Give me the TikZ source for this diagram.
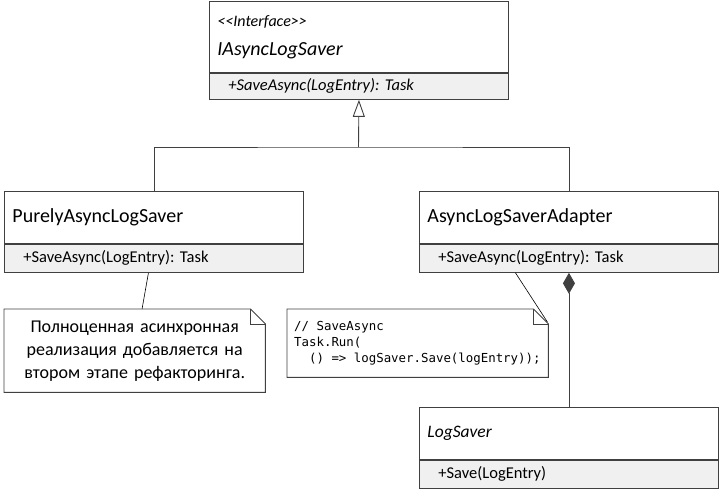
\documentclass[tikz,border=0pt]{standalone}
\usepackage{fontspec}
\setmainfont{Carlito}
\setmonofont{DejaVu Sans Mono}
\usetikzlibrary{arrows.meta,positioning}
\frenchspacing
\definecolor{umlline}{RGB}{64,64,64}
\definecolor{umlfill}{RGB}{240,240,240}
\tikzset{
    %Define style for class name compartments
    klasse/.style={
           rectangle,
           draw=umlline,
           line width=0.9pt,
           inner xsep=8pt,
           inner ysep=0pt,
           text width=283pt,
           minimum height=52pt,
           align=left,
           font=\fontsize{20}{24}\selectfont},
    %Define style for operation compartments
    methode/.style={
           rectangle,
           draw=umlline,
           fill=umlfill,
           line width=0.9pt,
           inner xsep=19pt,
           inner ysep=0pt,
           text width=261pt,
           minimum height=28pt,
           align=left,
           font=\fontsize{16.5}{19}\selectfont},
    %Define style for notes (outline drawn by \notizrand)
    notiz/.style={
           rectangle,
           inner xsep=7pt,
           inner ysep=0pt,
           text width=247pt},
    % Define line styles
    linie/.style={
           draw=umlline,
           line width=0.9pt},
    notizlinie/.style={
           draw=black,
           line width=0.6pt}
}
% folded-corner outline of a note
\newcommand\notizrand[1]{%
  \draw[linie] (#1.north west) -- ([xshift=-15pt]#1.north east)
    -- ([yshift=-15pt]#1.north east) -- (#1.south east)
    -- (#1.south west) -- cycle;
  \draw[linie] ([xshift=-15pt]#1.north east) |- ([yshift=-15pt]#1.north east);}

\begin{document}
\begin{tikzpicture}[x=1pt,y=-1pt]
  \useasboundingbox (0,0) rectangle (720,491);
  % interface
  \node[klasse,minimum height=71pt,anchor=north west] (ilogsaver) at (209,1)
    {{\fontsize{16}{19}\selectfont\itshape <\kern0pt<Interface>\kern0pt>}\\[5pt]\itshape IAsyncLogSaver};
  \node[methode,minimum height=26pt,below=0pt of ilogsaver,
    font={\fontsize{16.5}{19}\selectfont\itshape}] (ilogsaverop) {+SaveAsync(LogEntry): Task};
  % implementations
  \node[klasse,anchor=north west] (pure) at (4,191) {PurelyAsyncLogSaver};
  \node[methode,below=0pt of pure] (pureop) {+SaveAsync(LogEntry): Task};
  \node[klasse,anchor=north west] (adapter) at (419,191) {AsyncLogSaverAdapter};
  \node[methode,below=0pt of adapter] (adapterop) {+SaveAsync(LogEntry): Task};
  \node[klasse,anchor=north west,font={\fontsize{17.5}{21}\selectfont\itshape}] (logsaver) at (419,407) {LogSaver};
  \node[methode,below=0pt of logsaver] (logsaverop) {+Save(LogEntry)};
  % notes
  \node[notiz,anchor=north west,minimum height=83pt,align=center,
    font=\fontsize{18}{23}\selectfont] (note1) at (4,309)
    {Полноценная асинхронная\\реализация добавляется на\\втором этапе рефакторинга.};
  \notizrand{note1}
  \node[notiz,anchor=north west,minimum height=68pt,align=left,
    font=\ttfamily\fontsize{12.4}{16}\selectfont] (note2) at (287,309)
    {//\hphantom{x}SaveAsync\\Task.Run(\\\hphantom{xx}()\hphantom{x}=>\hphantom{x}logSaver.Save(logEntry));};
  \notizrand{note2}
  % generalization
  \coordinate (split) at (358.5,147);
  \draw[linie] (pure.north) |- (split) -| (adapter.north);
  \draw[linie,-{Triangle[open,length=17pt,width=12pt]}] (split) -- (ilogsaverop.south);
  % composition
  \draw[linie,{Diamond[length=21pt,width=12pt]}-] (adapterop.south) -- (logsaver.north);
  % note links
  \draw[notizlinie] ([xshift=-5.5pt]pureop.south) -- (note1);
  \draw[notizlinie] ([xshift=-53.5pt]adapterop.south) -- ([xshift=-1pt,yshift=-13pt]note2.north east);
\end{tikzpicture}
\end{document}
